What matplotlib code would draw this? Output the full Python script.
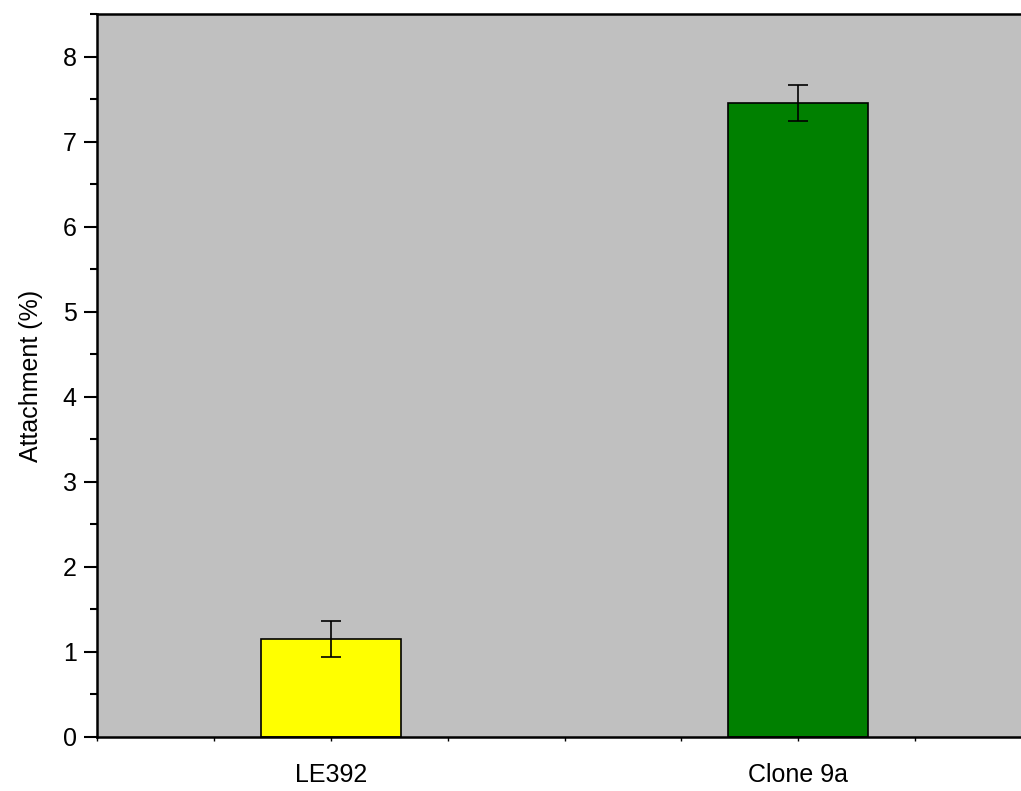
import matplotlib.pyplot as plt
from matplotlib.ticker import MultipleLocator

plt.rcParams['font.family'] = ['Liberation Sans', 'DejaVu Sans']

labels = ['LE392', 'Clone 9a']
values = [1.15, 7.45]
errors = [0.21, 0.21]
colors = ['#FFFF00', '#008000']

fig = plt.figure(figsize=(10.21, 7.91), dpi=100)
ax = fig.add_axes([97 / 1021, 1 - 737 / 791, (1032 - 97) / 1021, (737 - 14) / 791])
ax.set_facecolor('#C0C0C0')

x = [1, 2]
ax.bar(x, values, width=0.3, color=colors, edgecolor='black', linewidth=1.2, zorder=2)
ax.errorbar(x, values, yerr=errors, fmt='none', ecolor='black', elinewidth=1.2,
            capsize=7, capthick=1.2, zorder=3)

ax.set_xlim(0.5, 2.5)
ax.set_ylim(0, 8.5)
ax.set_xticks(x)
ax.set_xticklabels(labels, fontsize=18)
ax.xaxis.set_minor_locator(MultipleLocator(0.25))
ax.yaxis.set_major_locator(MultipleLocator(1))
ax.yaxis.set_minor_locator(MultipleLocator(0.5))
ax.tick_params(axis='y', which='major', length=9.5, width=1.5, labelsize=18, pad=5)
ax.tick_params(axis='y', which='minor', length=5, width=1.5)
ax.tick_params(axis='x', which='both', length=3, width=1, pad=16)
ax.set_ylabel('Attachment (%)', fontsize=18, labelpad=14)

for s in ['left', 'bottom', 'top']:
    ax.spines[s].set_linewidth(1.8)
ax.spines['right'].set_visible(False)

fig.savefig('out.png', dpi=100)
